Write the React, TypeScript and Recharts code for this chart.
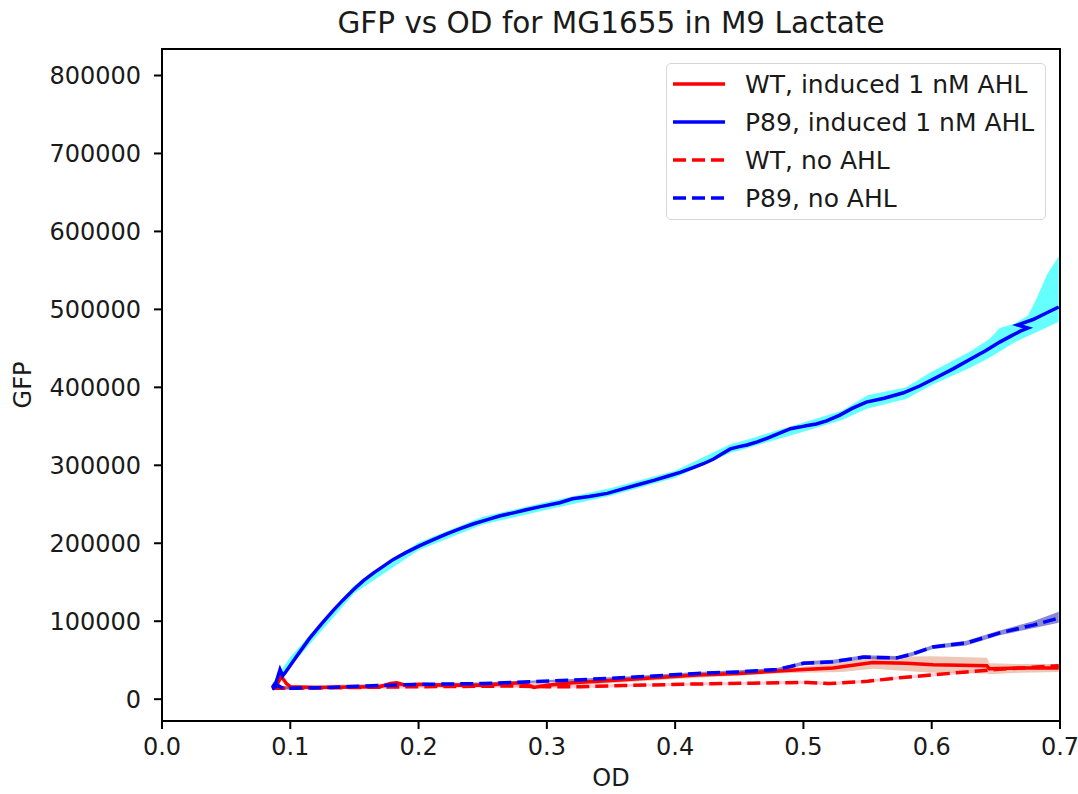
import { ComposedChart, Line, Area, XAxis, YAxis, ReferenceArea } from "recharts";

// P89, induced 1 nM AHL
const p89IndOd = [0.086, 0.089, 0.092, 0.094, 0.096, 0.105, 0.115, 0.124, 0.133, 0.141, 0.149, 0.157, 0.165, 0.173, 0.18, 0.19, 0.201, 0.212, 0.222, 0.233, 0.243, 0.253, 0.263, 0.274, 0.284, 0.295, 0.31, 0.32, 0.333, 0.347, 0.36, 0.373, 0.384, 0.394, 0.404, 0.414, 0.422, 0.43, 0.437, 0.443, 0.45, 0.456, 0.464, 0.472, 0.481, 0.49, 0.497, 0.503, 0.51, 0.518, 0.528, 0.538, 0.549, 0.563, 0.578, 0.591, 0.604, 0.617, 0.63, 0.642, 0.653, 0.662, 0.669, 0.675, 0.667, 0.679, 0.689, 0.699];
const p89IndGfp = [15000, 22000, 38000, 30000, 34000, 55000, 78000, 96000, 113000, 127000, 140000, 152000, 162000, 171000, 179000, 188000, 197000, 205000, 212000, 219000, 225000, 230000, 235000, 239000, 243000, 247000, 252000, 257000, 260000, 264000, 270000, 276000, 281000, 286000, 291000, 297000, 302000, 308000, 315000, 321000, 324000, 326000, 330000, 335000, 341000, 347000, 349000, 351000, 353000, 357000, 364000, 373000, 381000, 386000, 393000, 402000, 413000, 424000, 436000, 447000, 458000, 466000, 472000, 476000, 480000, 487000, 495000, 503000];
const p89IndBandOd = [0.086, 0.1, 0.15, 0.2, 0.25, 0.3, 0.35, 0.4, 0.443, 0.45, 0.5, 0.53, 0.55, 0.58, 0.6, 0.63, 0.645, 0.653, 0.665, 0.675, 0.682, 0.69, 0.699];
const p89IndBandLo = [12000, 42000, 136000, 191000, 224000, 243000, 261000, 284000, 316000, 319000, 343000, 358000, 373000, 385000, 403000, 425000, 438000, 446000, 458000, 466000, 471000, 477000, 484000];
const p89IndBandHi = [20000, 54000, 146000, 201000, 234000, 253000, 271000, 293000, 327000, 330000, 355000, 370000, 390000, 400000, 420000, 446000, 462000, 476000, 482000, 492000, 515000, 545000, 568000];

// P89, no AHL
const p89NoOd = [0.086, 0.09, 0.093, 0.1, 0.13, 0.16, 0.2, 0.25, 0.29, 0.32, 0.365, 0.417, 0.45, 0.479, 0.49, 0.5, 0.523, 0.547, 0.573, 0.585, 0.601, 0.627, 0.653, 0.679, 0.699];
const p89NoGfp = [13000, 18000, 15000, 14000, 15000, 17000, 19000, 20000, 22500, 24500, 28000, 33000, 35000, 38000, 42000, 46000, 48000, 54000, 53000, 58000, 67000, 72000, 85000, 95000, 104000];
const p89NoLo = [11000, 15000, 13000, 12500, 13500, 15500, 17500, 18500, 21000, 23000, 26500, 31000, 33000, 36000, 40000, 43500, 45500, 51500, 50500, 55500, 64500, 69000, 82000, 91000, 98000];
const p89NoHi = [15000, 21000, 17000, 15500, 16500, 18500, 20500, 21500, 24000, 26000, 29500, 35000, 37000, 40000, 44000, 48500, 50500, 56500, 55500, 60500, 69500, 75000, 88000, 100000, 112000];

// WT, induced 1 nM AHL
const wtIndOd = [0.086, 0.09, 0.093, 0.097, 0.1, 0.12, 0.15, 0.17, 0.178, 0.183, 0.19, 0.2, 0.22, 0.25, 0.27, 0.28, 0.29, 0.3, 0.32, 0.36, 0.417, 0.45, 0.5, 0.523, 0.554, 0.58, 0.601, 0.643, 0.645, 0.67, 0.699];
const wtIndGfp = [14000, 20000, 29000, 20000, 16000, 15000, 15500, 16000, 20000, 21000, 18000, 19000, 18000, 18000, 20000, 21000, 15000, 18000, 21000, 25000, 31000, 33000, 38000, 40000, 47000, 46000, 44000, 43000, 39000, 40000, 40000];
const wtIndBandOd = [0.086, 0.2, 0.3, 0.4, 0.48, 0.5, 0.53, 0.554, 0.6, 0.643, 0.645, 0.67, 0.699];
const wtIndBandLo = [12000, 16000, 15000, 26000, 33000, 34000, 35000, 39000, 34000, 33000, 32000, 34000, 35000];
const wtIndBandHi = [17000, 21000, 21000, 31000, 39000, 42000, 47000, 54000, 55000, 53000, 46000, 45000, 45000];

// WT, no AHL
const wtNoOd = [0.086, 0.1, 0.15, 0.2, 0.25, 0.27, 0.3, 0.326, 0.36, 0.417, 0.46, 0.503, 0.52, 0.55, 0.575, 0.6, 0.627, 0.65, 0.679, 0.699];
const wtNoGfp = [14000, 14000, 15000, 16000, 16500, 17000, 16000, 16000, 17500, 19500, 20500, 21500, 20000, 23000, 27500, 31000, 35000, 38000, 41000, 43000];
const wtNoLo = [12000, 12000, 13000, 14000, 14500, 15000, 14000, 14000, 15500, 17500, 18500, 19500, 18000, 21000, 25500, 29000, 33000, 36000, 39000, 41000];
const wtNoHi = [16000, 16000, 17000, 18000, 18500, 19000, 18000, 18000, 19500, 21500, 22500, 23500, 22000, 25000, 29500, 33000, 37000, 40000, 43000, 45000];

const xTicks = [0, 0.1, 0.2, 0.3, 0.4, 0.5, 0.6, 0.7];
const yTicks = [0, 100000, 200000, 300000, 400000, 500000, 600000, 700000, 800000];

const toLine = (od: number[], gfp: number[]) => od.map((x, i) => ({ od: x, gfp: gfp[i] }));
const toBand = (od: number[], lo: number[], hi: number[]) =>
  od.map((x, i) => ({ od: x, band: [lo[i], hi[i]] }));

const lines = [
  { name: "WT, induced 1 nM AHL", color: "#ff0000", dashed: false, data: toLine(wtIndOd, wtIndGfp) },
  { name: "P89, induced 1 nM AHL", color: "#0000ff", dashed: false, data: toLine(p89IndOd, p89IndGfp) },
  { name: "WT, no AHL", color: "#ff0000", dashed: true, data: toLine(wtNoOd, wtNoGfp) },
  { name: "P89, no AHL", color: "#0000ff", dashed: true, data: toLine(p89NoOd, p89NoGfp) },
];

const bands = [
  { id: "wtInd", fill: "#d8734a", opacity: 0.4, data: toBand(wtIndBandOd, wtIndBandLo, wtIndBandHi) },
  { id: "p89Ind", fill: "#00ffff", opacity: 0.6, data: toBand(p89IndBandOd, p89IndBandLo, p89IndBandHi) },
  { id: "wtNo", fill: "#ff8fb0", opacity: 0.45, data: toBand(wtNoOd, wtNoLo, wtNoHi) },
  { id: "p89No", fill: "#2a2ab0", opacity: 0.55, data: toBand(p89NoOd, p89NoLo, p89NoHi) },
];

const FONT = "'DejaVu Sans', sans-serif";
const tickStyle = { fontSize: 24, fill: "#1a1a1a", fontFamily: FONT };

export default function App() {
  return (
    <div style={{ position: "absolute", left: 0, top: 0, width: 1078, height: 794, background: "#fff", fontFamily: FONT }}>
      <div
        style={{
          position: "absolute", top: 6, left: 162, width: 898, textAlign: "center",
          fontSize: 29.5, color: "#1a1a1a",
        }}
      >
        GFP vs OD for MG1655 in M9 Lactate
      </div>

      <ComposedChart width={1078} height={794} margin={{ top: 49, right: 18, left: 0, bottom: 33 }}>
        <XAxis
          dataKey="od"
          type="number"
          domain={[0, 0.7]}
          ticks={xTicks}
          allowDataOverflow
          tickFormatter={(v: number) => v.toFixed(1)}
          tick={tickStyle}
          tickSize={8}
          tickMargin={9}
          height={40}
          stroke="#000"
          strokeWidth={2}
          label={{
            content: (p: any) => (
              <text
                x={p.viewBox.x + p.viewBox.width / 2}
                y={p.viewBox.y + 57}
                textAnchor="middle"
                dominantBaseline="central"
                style={tickStyle}
              >
                OD
              </text>
            ),
          }}
        />
        <YAxis
          type="number"
          domain={[-28000, 834000]}
          ticks={yTicks}
          allowDataOverflow
          tick={tickStyle}
          tickSize={8}
          tickMargin={13}
          width={162}
          stroke="#000"
          strokeWidth={2}
          label={{
            content: (p: any) => {
              const cy = p.viewBox.y + p.viewBox.height / 2;
              return (
                <text
                  x={23}
                  y={cy}
                  transform={`rotate(-90 23 ${cy})`}
                  textAnchor="middle"
                  dominantBaseline="central"
                  style={tickStyle}
                >
                  GFP
                </text>
              );
            },
          }}
        />
        {bands.map((b) => (
          <Area
            key={b.id}
            data={b.data}
            dataKey="band"
            type="linear"
            stroke="none"
            fill={b.fill}
            fillOpacity={b.opacity}
            isAnimationActive={false}
            dot={false}
            activeDot={false}
          />
        ))}
        {lines.map((l) => (
          <Line
            key={l.name}
            data={l.data}
            dataKey="gfp"
            name={l.name}
            type="linear"
            stroke={l.color}
            strokeWidth={3.5}
            strokeDasharray={l.dashed ? "13 6" : undefined}
            dot={false}
            activeDot={false}
            isAnimationActive={false}
          />
        ))}
        <ReferenceArea
          x1={0}
          x2={0.7}
          y1={-28000}
          y2={834000}
          fill="none"
          stroke="#000"
          strokeWidth={2}
          ifOverflow="visible"
        />
      </ComposedChart>

      {/* Legend */}
      <div
        style={{
          position: "absolute", left: 666, top: 63, width: 380, height: 157,
          border: "1.5px solid #d6d6d6", borderRadius: 5, background: "rgba(255,255,255,0.8)",
          boxSizing: "border-box", paddingTop: 1,
        }}
      >
        {lines.map((l) => (
          <div key={l.name} style={{ display: "flex", alignItems: "center", height: 38, fontSize: 25, color: "#1a1a1a" }}>
            <svg width={52} height={10} style={{ marginLeft: 6, marginRight: 20 }}>
              <line
                x1={0} y1={5} x2={52} y2={5}
                stroke={l.color}
                strokeWidth={3.5}
                strokeDasharray={l.dashed ? "13 6" : undefined}
              />
            </svg>
            <span>{l.name}</span>
          </div>
        ))}
      </div>
    </div>
  );
}
